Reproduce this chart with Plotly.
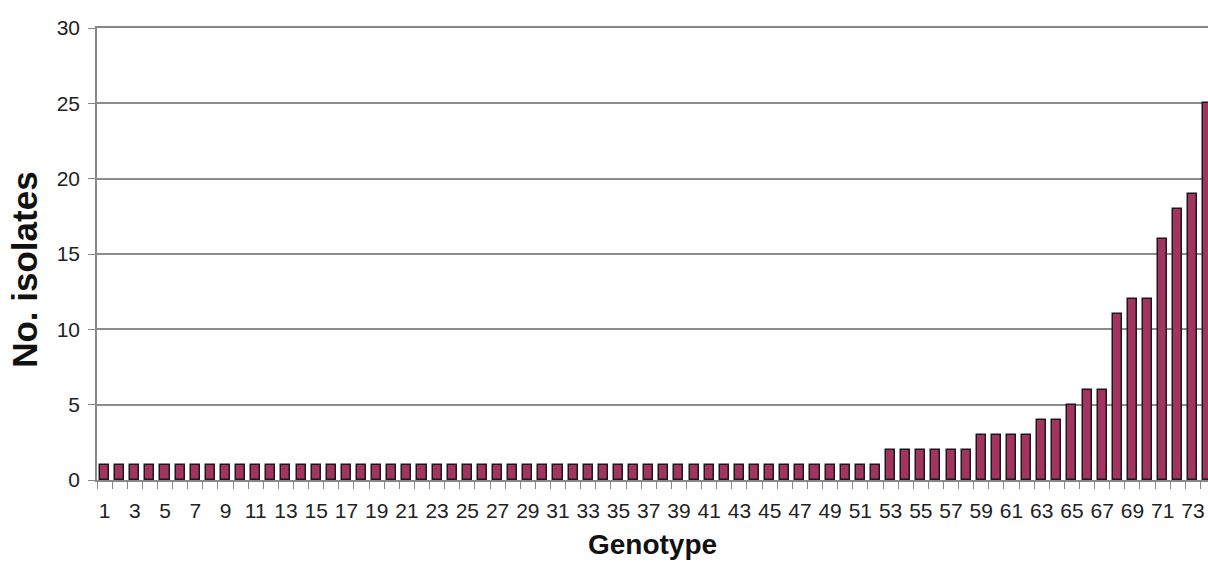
import plotly.graph_objects as go

genotypes = list(range(1, 75))
isolates = [1] * 52 + [2, 2, 2, 2, 2, 2, 3, 3, 3, 3, 4, 4, 5, 6, 6, 11, 12, 12, 16, 18, 19, 25]
tick_labels = [str(g) for g in genotypes if g % 2 == 1]
tick_positions = [g for g in genotypes if g % 2 == 1]

fig = go.Figure()
fig.add_trace(go.Bar(
    x=genotypes, y=isolates, width=0.6,
    marker=dict(color="#A3335F", line=dict(color="#1a1a1a", width=1.5)),
))

font_main = "Liberation Sans, Arial, sans-serif"
fig.update_layout(
    width=1208, height=566,
    margin=dict(l=97, r=0, t=28, b=86),
    plot_bgcolor="white", paper_bgcolor="white",
    showlegend=False,
    font=dict(family=font_main, color="#222"),
    bargap=0,
    annotations=[dict(
        text="<b>No. isolates</b>", textangle=-90,
        xref="paper", yref="paper", x=0, y=0.465, xshift=-72,
        xanchor="center", yanchor="middle", showarrow=False,
        font=dict(size=35, color="#111"),
    )],
)
fig.update_xaxes(
    range=[0.5, 74.0],
    tickmode="array", tickvals=tick_positions, ticktext=tick_labels,
    ticks="", tickfont=dict(size=21, color="#222"), ticklabelstandoff=11,
    showgrid=False, zeroline=False,
    showline=True, linecolor="#888", linewidth=1.5, mirror=True,
    minor=dict(ticks="outside", tick0=0.5, dtick=1, ticklen=7, tickcolor="#888", tickwidth=1, showgrid=False),
    title=dict(text="<b>Genotype</b>", font=dict(size=28, color="#111"), standoff=13),
)
fig.update_yaxes(
    range=[0, 30], tickvals=[0, 5, 10, 15, 20, 25, 30],
    ticks="outside", ticklen=7, tickcolor="#888", tickwidth=1,
    tickfont=dict(size=21, color="#222"), ticklabelstandoff=4,
    showgrid=True, gridcolor="#8c8c8c", gridwidth=1.5,
    zeroline=False, showline=True, linecolor="#888", linewidth=1.5,
)

fig.write_html(
    "out.html",
    config={"displayModeBar": False},
    post_script="document.body.style.margin='0';document.body.style.overflow='hidden';",
)
